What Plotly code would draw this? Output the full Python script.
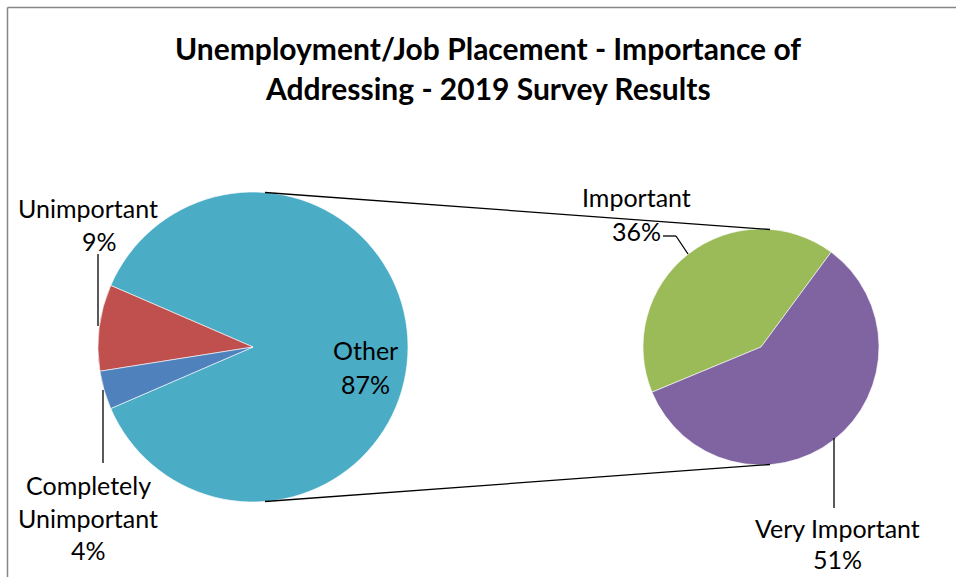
import plotly.graph_objects as go

# ---------------- data ----------------
main_labels = ["Other", "Unimportant", "Completely Unimportant"]
main_values = [87, 9, 4]
sub_labels = ["Important", "Very Important"]
sub_values = [36, 51]
title_lines = ["Unemployment/Job Placement - Importance of",
               "Addressing - 2019 Survey Results"]

main_colors = ["#4BACC6", "#C0504D", "#4F81BD"]
sub_colors = ["#9BBB59", "#8064A2"]

W, H = 956, 577
def px(x):
    return x / W
def py(y):
    return 1 - y / H

# geometry (pixels)
L_CX, L_CY, L_R = 253, 347, 155
R_CX, R_CY, R_R = 761, 347, 118
other_share = main_values[0] / sum(main_values)
# plotly (counterclockwise): first slice spans clockwise from `rotation`
main_rotation = 90 - other_share * 360 / 2   # center "Other" on the right side

fig = go.Figure()
fig.add_trace(go.Pie(
    labels=main_labels, values=main_values, sort=False, direction="counterclockwise",
    rotation=main_rotation, textinfo="none", hoverinfo="label+percent",
    marker=dict(colors=main_colors, line=dict(color="white", width=0.6)),
    domain=dict(x=[px(L_CX - L_R), px(L_CX + L_R)], y=[py(L_CY + L_R), py(L_CY - L_R)]),
    showlegend=False,
))
fig.add_trace(go.Pie(
    labels=sub_labels, values=sub_values, sort=False, direction="counterclockwise",
    rotation=-112.5, textinfo="none", hoverinfo="label+value",
    marker=dict(colors=sub_colors, line=dict(color="white", width=0.6)),
    domain=dict(x=[px(R_CX - R_R), px(R_CX + R_R)], y=[py(R_CY + R_R), py(R_CY - R_R)]),
    showlegend=False,
))

FONT = "Lato, Carlito, 'Open Sans', sans-serif"
ann = []
def text(x, y, s, size=25, bold=False):
    ann.append(dict(x=px(x), y=py(y), xref="paper", yref="paper", text=("<b>%s</b>" % s) if bold else s,
                    showarrow=False, xanchor="center", yanchor="middle",
                    font=dict(family=FONT, size=size, color="#000000")))

# title
text(488, 48, title_lines[0], size=30, bold=True)
text(488, 88, title_lines[1], size=30, bold=True)

pct = lambda v: "%d%%" % v
# labels
text(365, 350, main_labels[0]); text(365, 384, pct(main_values[0]))
text(88, 208, main_labels[1]); text(99, 241, pct(main_values[1]))
text(88, 485, "Completely"); text(88, 518, "Unimportant"); text(88, 550, pct(main_values[2]))
text(636, 197, sub_labels[0]); text(636, 231, pct(sub_values[0]))
text(837, 528, sub_labels[1]); text(837, 559, pct(sub_values[1]))

shapes = []
def line(x0, y0, x1, y1, color="#000000", width=1.3):
    shapes.append(dict(type="line", xref="paper", yref="paper", x0=px(x0), y0=py(y0),
                       x1=px(x1), y1=py(y1), line=dict(color=color, width=width)))

# chart frame (left and top edges visible)
line(7.5, 7.5, 7.5, 577, color="#868686", width=1.5)
line(7.5, 7.5, 956, 7.5, color="#868686", width=1.5)

# connector lines between the two pies
line(L_CX + 12, L_CY - L_R + 0.5, R_CX + 9, R_CY - R_R + 0.5)
line(L_CX + 12, L_CY + L_R - 0.5, R_CX + 9, R_CY + R_R - 0.5)

# leader lines
line(98, 254, 98, 326)
line(103, 390, 103, 463)
line(663, 236, 676, 236); line(676, 236, 688, 254)
line(834, 438, 834, 508)

fig.update_layout(
    width=W, height=H, margin=dict(l=0, r=0, t=0, b=0),
    paper_bgcolor="white", plot_bgcolor="white",
    annotations=ann, shapes=shapes,
)
fig.write_html(
    "out.html",
    config={"displayModeBar": False},
    post_script=(
        "var s=document.createElement('style');"
        "s.textContent='html,body{margin:0;padding:0;overflow:hidden;}"
        "::-webkit-scrollbar{display:none;width:0;height:0;}';"
        "document.head.appendChild(s);"
    ),
)
